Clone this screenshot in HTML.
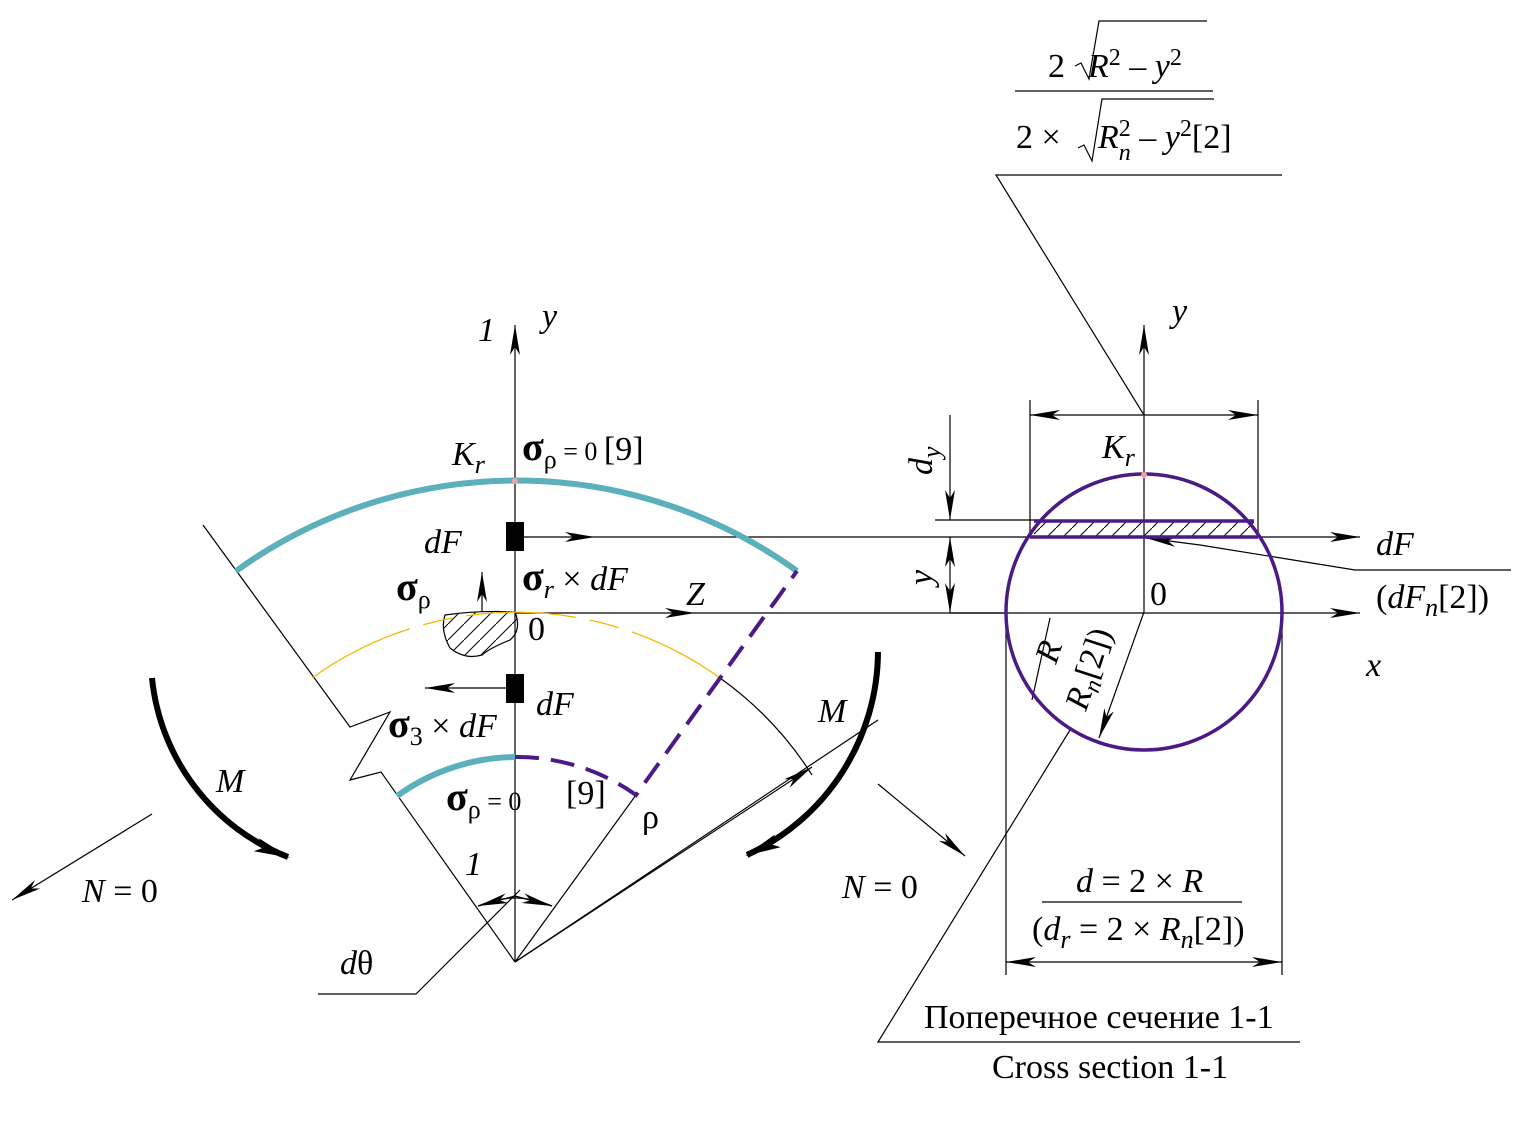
<!DOCTYPE html>
<html><head><meta charset="utf-8"><style>
body{margin:0;background:#fff}
svg text{font-family:"Liberation Serif",serif;fill:#000}
.i{font-style:italic}
.s{font-size:40px;font-weight:bold}
</style></head><body>
<svg width="1535" height="1132" viewBox="0 0 1535 1132" xmlns="http://www.w3.org/2000/svg">
<defs>
<marker id="a" viewBox="0 0 30 10" refX="30" refY="5" markerWidth="30" markerHeight="10" markerUnits="userSpaceOnUse" orient="auto"><path d="M0,0 L30,5 L0,10 L8,5z" fill="#000"/></marker>
<marker id="b" viewBox="0 0 36 14" refX="34" refY="7" markerWidth="36" markerHeight="14" markerUnits="userSpaceOnUse" orient="auto"><path d="M0,0 L36,7 L0,14 L8,7z" fill="#000"/></marker>
<pattern id="h" width="16" height="16" patternUnits="userSpaceOnUse"><path d="M0,16 L16,0" stroke="#000" stroke-width="1"/></pattern>
</defs>
<g stroke="#000" stroke-width="1.2" fill="none">
<line x1="515" y1="962" x2="515" y2="325" marker-end="url(#a)"/>
<line x1="515" y1="613" x2="695" y2="613" marker-end="url(#a)"/>
<line x1="695" y1="613" x2="1360" y2="613" marker-end="url(#a)"/>
<line x1="524" y1="537" x2="595" y2="537" marker-end="url(#a)"/>
<line x1="595" y1="537" x2="1360" y2="537" marker-end="url(#a)"/>
<line x1="506" y1="688" x2="425" y2="688" marker-end="url(#a)"/>
<line x1="482" y1="612" x2="482" y2="572" marker-end="url(#a)"/>
<polyline points="203,525 350,727 390,712 350,780 381,772 515,962"/>
<line x1="515" y1="962" x2="636" y2="795"/>
<line x1="515" y1="962" x2="878" y2="720"/>
<line x1="515" y1="962" x2="812" y2="767" marker-end="url(#a)"/>
<path d="M720,678 A349,349 0 0 1 812,775"/>
<path d="M478,906 Q515,890 552,906"/>
<line x1="515" y1="896" x2="478" y2="906" marker-end="url(#a)"/>
<line x1="515" y1="896" x2="552" y2="906" marker-end="url(#a)"/>
<polyline points="318,994 416,994 520,890"/>
<line x1="152" y1="814" x2="12" y2="900" marker-end="url(#a)"/>
<line x1="878" y1="784" x2="965" y2="856" marker-end="url(#a)"/>
<path d="M445,615 Q480,610 515,612 Q522,630 510,640 Q490,648 482,655 Q465,660 450,648 Q440,630 445,615z" fill="url(#h)"/>
<line x1="1144" y1="612" x2="1144" y2="325" marker-end="url(#a)"/>
<line x1="1030" y1="400" x2="1030" y2="537"/>
<line x1="1258" y1="400" x2="1258" y2="537"/>
<line x1="1144" y1="415" x2="1030" y2="415" marker-end="url(#a)"/>
<line x1="1144" y1="415" x2="1258" y2="415" marker-end="url(#a)"/>
<line x1="950" y1="415" x2="950" y2="520" marker-end="url(#a)"/>
<line x1="950" y1="575" x2="950" y2="537" marker-end="url(#a)"/>
<line x1="950" y1="575" x2="950" y2="613" marker-end="url(#a)"/>
<line x1="935" y1="520" x2="1040" y2="520"/>
<line x1="950" y1="613" x2="1006" y2="613"/>
<line x1="1006" y1="625" x2="1006" y2="975"/>
<line x1="1282" y1="625" x2="1282" y2="975"/>
<line x1="1144" y1="962" x2="1006" y2="962" marker-end="url(#a)"/>
<line x1="1144" y1="962" x2="1282" y2="962" marker-end="url(#a)"/>
<line x1="1042" y1="902" x2="1242" y2="902"/>
<line x1="1144" y1="612" x2="1099" y2="738" marker-end="url(#a)"/>
<line x1="1032" y1="700" x2="1050" y2="618"/>
<polyline points="1511,570 1355,570 1200,545"/>
<line x1="1200" y1="545" x2="1146" y2="538" marker-end="url(#a)"/>
<polyline points="1282,175 996,175 1144,415"/>
<polyline points="1300,1042 878,1042 1070,730"/>
<line x1="1015" y1="91" x2="1213" y2="91"/>
<path d="M1075,66 l6,-3 8,16 10,-58 108,0"/>
<path d="M1078,148 l6,-3 8,16 10,-62 112,0"/>
<rect x="1034" y="521" width="220" height="16" fill="url(#h)" stroke="none"/>
</g>
<path d="M236,571 A480,480 0 0 1 797,571" stroke="#5bb0bb" stroke-width="6" fill="none"/>
<path d="M312,678 A349,349 0 0 1 720,678" stroke="#f5b800" stroke-width="1.3" fill="none" stroke-dasharray="110,14,30,14"/>
<path d="M397,796 A205,205 0 0 1 515,757" stroke="#5bb0bb" stroke-width="6" fill="none"/>
<path d="M515,757 A205,205 0 0 1 636,795 L797,571" stroke="#4b1a86" stroke-width="4" fill="none" stroke-dasharray="24,12"/>
<circle cx="1144" cy="612" r="138" stroke="#4b1a86" stroke-width="3.5" fill="none"/>
<line x1="1034" y1="521" x2="1254" y2="521" stroke="#4b1a86" stroke-width="3.5"/>
<line x1="1030" y1="537" x2="1258" y2="537" stroke="#4b1a86" stroke-width="3.5"/>
<circle cx="515" cy="481" r="3" fill="#f4a0a0"/><circle cx="1144" cy="475" r="3" fill="#f4a0a0"/>
<rect x="506" y="522" width="18" height="29" fill="#000"/>
<rect x="506" y="674" width="18" height="29" fill="#000"/>
<g stroke="#000" stroke-width="6" fill="none">
<path d="M152,678 A215,215 0 0 0 288,857" marker-end="url(#b)"/>
<path d="M878,652 A225,225 0 0 1 747,855" marker-end="url(#b)"/>
</g>
<g font-size="34">
<text x="478" y="341" class="i">1</text><text x="542" y="327" class="i">y</text>
<text x="452" y="465" class="i">K<tspan font-size="26" dy="8">r</tspan></text>
<text x="522" y="460"><tspan class="s">σ</tspan><tspan font-size="26" dy="8">ρ</tspan><tspan dy="-8" font-size="26"> = 0  </tspan>[9]</text>
<text x="424" y="553" class="i">dF</text>
<text x="522" y="590"><tspan class="s">σ</tspan><tspan font-size="26" dy="8" class="i">r</tspan><tspan dy="-8"> × </tspan><tspan class="i">dF</tspan></text>
<text x="396" y="600"><tspan class="s">σ</tspan><tspan font-size="26" dy="8">ρ</tspan></text>
<text x="686" y="605" class="i">Z</text>
<text x="528" y="640">0</text>
<text x="536" y="715" class="i">dF</text>
<text x="388" y="737"><tspan class="s">σ</tspan><tspan font-size="26" dy="8">3</tspan><tspan dy="-8"> × </tspan><tspan class="i">dF</tspan></text>
<text x="446" y="810"><tspan class="s">σ</tspan><tspan font-size="26" dy="8">ρ</tspan><tspan dy="-8" font-size="26"> = 0</tspan></text>
<text x="566" y="804">[9]</text>
<text x="642" y="828">ρ</text>
<text x="216" y="792" class="i">M</text>
<text x="818" y="722" class="i">M</text>
<text x="465" y="875" class="i">1</text>
<text x="82" y="902" class="i">N<tspan font-style="normal"> = 0</tspan></text>
<text x="842" y="898" class="i">N<tspan font-style="normal"> = 0</tspan></text>
<text x="340" y="974" class="i">d<tspan font-style="normal">θ</tspan></text>
<text x="1172" y="322" class="i">y</text>
<text x="1102" y="458" class="i">K<tspan font-size="26" dy="8">r</tspan></text>
<text x="1150" y="605">0</text>
<text x="1376" y="555" class="i">dF</text>
<text x="1376" y="608">(<tspan class="i">dF<tspan font-size="26" dy="8">n</tspan></tspan><tspan dy="-8">[2])</tspan></text>
<text x="1366" y="676" class="i">x</text>
<text x="932" y="475" class="i" transform="rotate(-90 932 475)">d<tspan font-size="26" dy="8">y</tspan></text>
<text x="932" y="585" class="i" transform="rotate(-90 932 585)">y</text>
<text x="0" y="0" class="i" transform="translate(1056,665) rotate(-72)">R</text>
<text x="0" y="0" transform="translate(1086,712) rotate(-72)"><tspan class="i">R<tspan font-size="24" dy="6">n</tspan></tspan><tspan dy="-6">[2])</tspan></text>
<text x="1076" y="892" class="i">d<tspan font-style="normal"> = 2 × </tspan>R</text>
<text x="1032" y="940">(<tspan class="i">d<tspan font-size="26" dy="8">r</tspan></tspan><tspan dy="-8"> = 2 × </tspan><tspan class="i">R<tspan font-size="26" dy="8">n</tspan></tspan><tspan dy="-8">[2])</tspan></text>
<text x="924" y="1028">Поперечное сечение 1-1</text>
<text x="992" y="1078">Cross section 1-1</text>
<text x="1048" y="77">2</text>
<text x="1088" y="77" class="i">R<tspan font-size="24" dy="-12" font-style="normal">2</tspan><tspan dy="12" font-style="normal"> – </tspan>y<tspan font-size="24" dy="-12" font-style="normal">2</tspan></text>
<text x="1016" y="148">2 ×</text>
<text x="1098" y="148" class="i">R<tspan font-size="24" dy="-12" font-style="normal">2</tspan><tspan font-size="24" dx="-12" dy="24">n</tspan><tspan dy="-12" font-style="normal"> – </tspan>y<tspan font-size="24" dy="-12" font-style="normal">2</tspan><tspan dy="12" font-style="normal">[2]</tspan></text>
</g>
</svg>
</body></html>
